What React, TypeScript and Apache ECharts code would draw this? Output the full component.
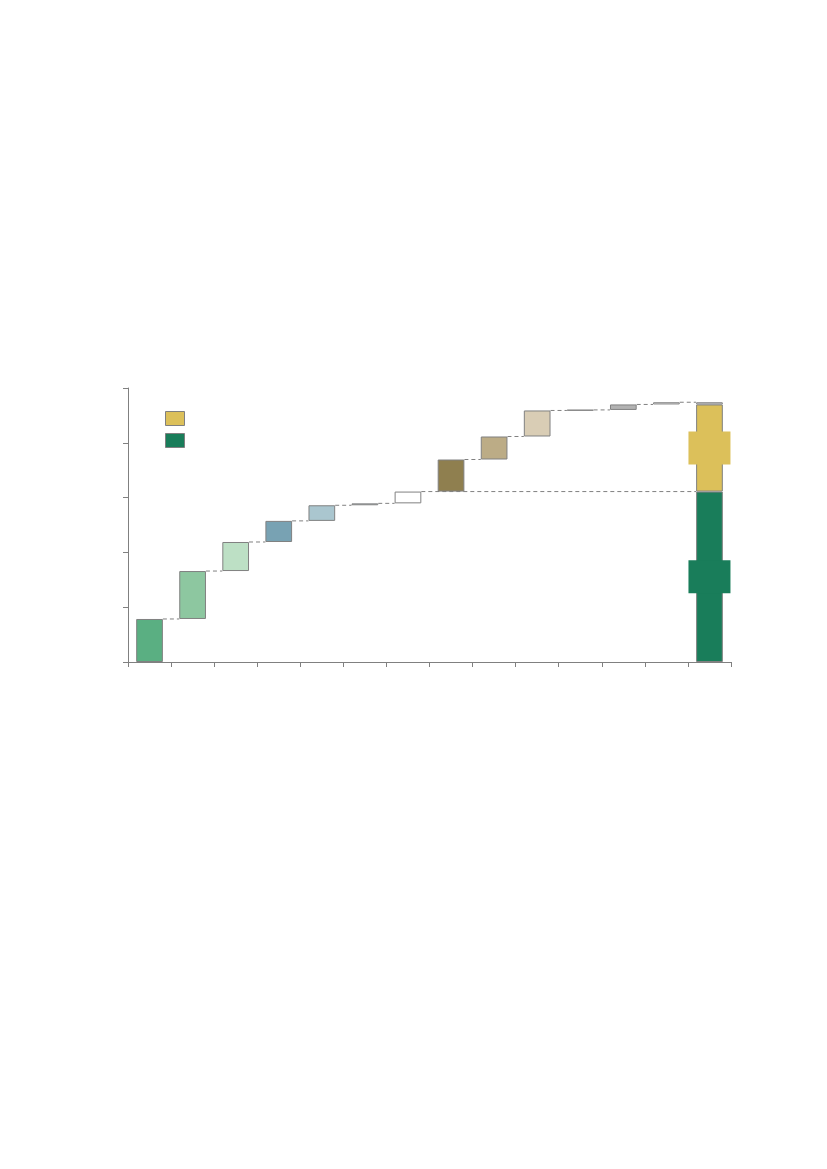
import { useEffect, useRef } from 'react'
import * as echarts from 'echarts'

// 13 steps + one total column, no visible labels in the source
const categories = ['1', '2', '3', '4', '5', '6', '7', '8', '9', '10', '11', '12', '13', '合计']
const stepValues = [15.7, 17.5, 10.6, 7.7, 5.7, 0.7, 4.3, 11.7, 8.4, 9.5, 0.2, 2.0, 0.8]
const stepColors = [
  '#5aaf82', '#8dc7a0', '#bde0c5', '#78a2b3', '#aac6cf', '#c8d9df', '#ffffff',
  '#8f7f4f', '#bcac86', '#d9cdb5', '#7f7f7f', '#b2b2b2', '#ffffff'
]
// which steps belong to each part of the total column
const greenSteps = [0, 1, 2, 3, 4, 5, 6]
const yellowSteps = [7, 8, 9, 10, 11]
const capSteps = [12]
const yTicks = [0, 20, 40, 60, 80, 100]

const GREEN = '#197d5a'
const YELLOW = '#dcc05a'
const EDGE = '#808080'

export default function App() {
  const chartRef = useRef<HTMLDivElement>(null)

  useEffect(() => {
    document.body.style.margin = '0'
    const host = chartRef.current
    if (!host) return
    const chart = echarts.init(host, null, { renderer: 'svg' })

    const last = categories.length - 1
    const cumulative: number[] = []
    stepValues.reduce((acc, v, i) => {
      cumulative[i] = acc + v
      return acc + v
    }, 0)
    const baseData = stepValues.map((v, i) => cumulative[i] - v)
    const sumOf = (idx: number[]) => idx.reduce((a, i) => a + stepValues[i], 0)
    const totalOnly = (v: number) => categories.map((_, i) => (i === last ? v : '-'))

    // connectors: [fromIndex, toIndex, level]
    const connectors = stepValues.map((_, i) => {
      const to = i === greenSteps[greenSteps.length - 1] || i === capSteps[capSteps.length - 1] ? last : i + 1
      return [i, to, cumulative[i]]
    })

    const hiddenLabel = (color: string) => ({
      show: true,
      position: 'inside' as const,
      formatter: ' ',
      backgroundColor: color,
      width: 42,
      height: 33,
      padding: 0,
      fontSize: 10,
      color
    })

    const option: echarts.EChartsOption = {
      animation: false,
      grid: { left: 128, right: 96, top: 388, bottom: 507 },
      legend: {
        orient: 'vertical',
        left: 165,
        top: 411,
        padding: 0,
        itemWidth: 19,
        itemHeight: 14,
        itemGap: 7,
        icon: 'rect',
        itemStyle: { borderColor: EDGE, borderWidth: 1 },
        data: ['B', 'A'],
        formatter: () => '',
        textStyle: { fontSize: 1 }
      },
      xAxis: {
        type: 'category',
        data: categories,
        boundaryGap: true,
        axisLine: { lineStyle: { color: EDGE, width: 1 } },
        axisTick: { show: true, length: 5, lineStyle: { color: EDGE } },
        axisLabel: { show: false }
      },
      yAxis: {
        type: 'value',
        min: yTicks[0],
        max: yTicks[yTicks.length - 1],
        interval: 20,
        axisLine: { show: true, lineStyle: { color: EDGE, width: 1 } },
        axisTick: { show: true, length: 5, lineStyle: { color: EDGE } },
        axisLabel: { show: false },
        splitLine: { show: false }
      },
      series: [
        {
          name: 'base',
          type: 'bar',
          stack: 'w',
          barWidth: '62%',
          silent: true,
          itemStyle: { color: 'transparent', borderWidth: 0 },
          data: [...baseData, '-']
        },
        {
          name: 'step',
          type: 'bar',
          stack: 'w',
          barWidth: '62%',
          data: [
            ...stepValues.map((v, i) => ({
              value: v,
              itemStyle: { color: stepColors[i], borderColor: EDGE, borderWidth: 1 }
            })),
            '-'
          ]
        },
        {
          name: 'A',
          type: 'bar',
          stack: 'w',
          barWidth: '62%',
          itemStyle: { color: GREEN, borderColor: EDGE, borderWidth: 1 },
          label: hiddenLabel(GREEN),
          data: totalOnly(sumOf(greenSteps))
        },
        {
          name: 'B',
          type: 'bar',
          stack: 'w',
          barWidth: '62%',
          itemStyle: { color: YELLOW, borderColor: EDGE, borderWidth: 1 },
          label: hiddenLabel(YELLOW),
          data: totalOnly(sumOf(yellowSteps))
        },
        {
          name: 'cap',
          type: 'bar',
          stack: 'w',
          barWidth: '62%',
          itemStyle: { color: '#ffffff', borderColor: EDGE, borderWidth: 1 },
          data: totalOnly(sumOf(capSteps))
        },
        {
          name: 'connectors',
          type: 'custom',
          silent: true,
          z: 1,
          encode: { x: [0, 1], y: 2 },
          data: connectors,
          renderItem: (params: any, api: any) => {
            const from = api.coord([api.value(0), api.value(2)])
            const to = api.coord([api.value(1), api.value(2)])
            const half = (api.size([1, 0])[0] * 0.62) / 2
            return {
              type: 'line',
              shape: { x1: from[0] + half, y1: from[1], x2: to[0] - half, y2: to[1] },
              style: { stroke: EDGE, lineWidth: 1, lineDash: [4, 3] }
            }
          }
        }
      ]
    }

    chart.setOption(option)
    return () => chart.dispose()
  }, [])

  return <div ref={chartRef} style={{ width: 827, height: 1169 }} />
}
